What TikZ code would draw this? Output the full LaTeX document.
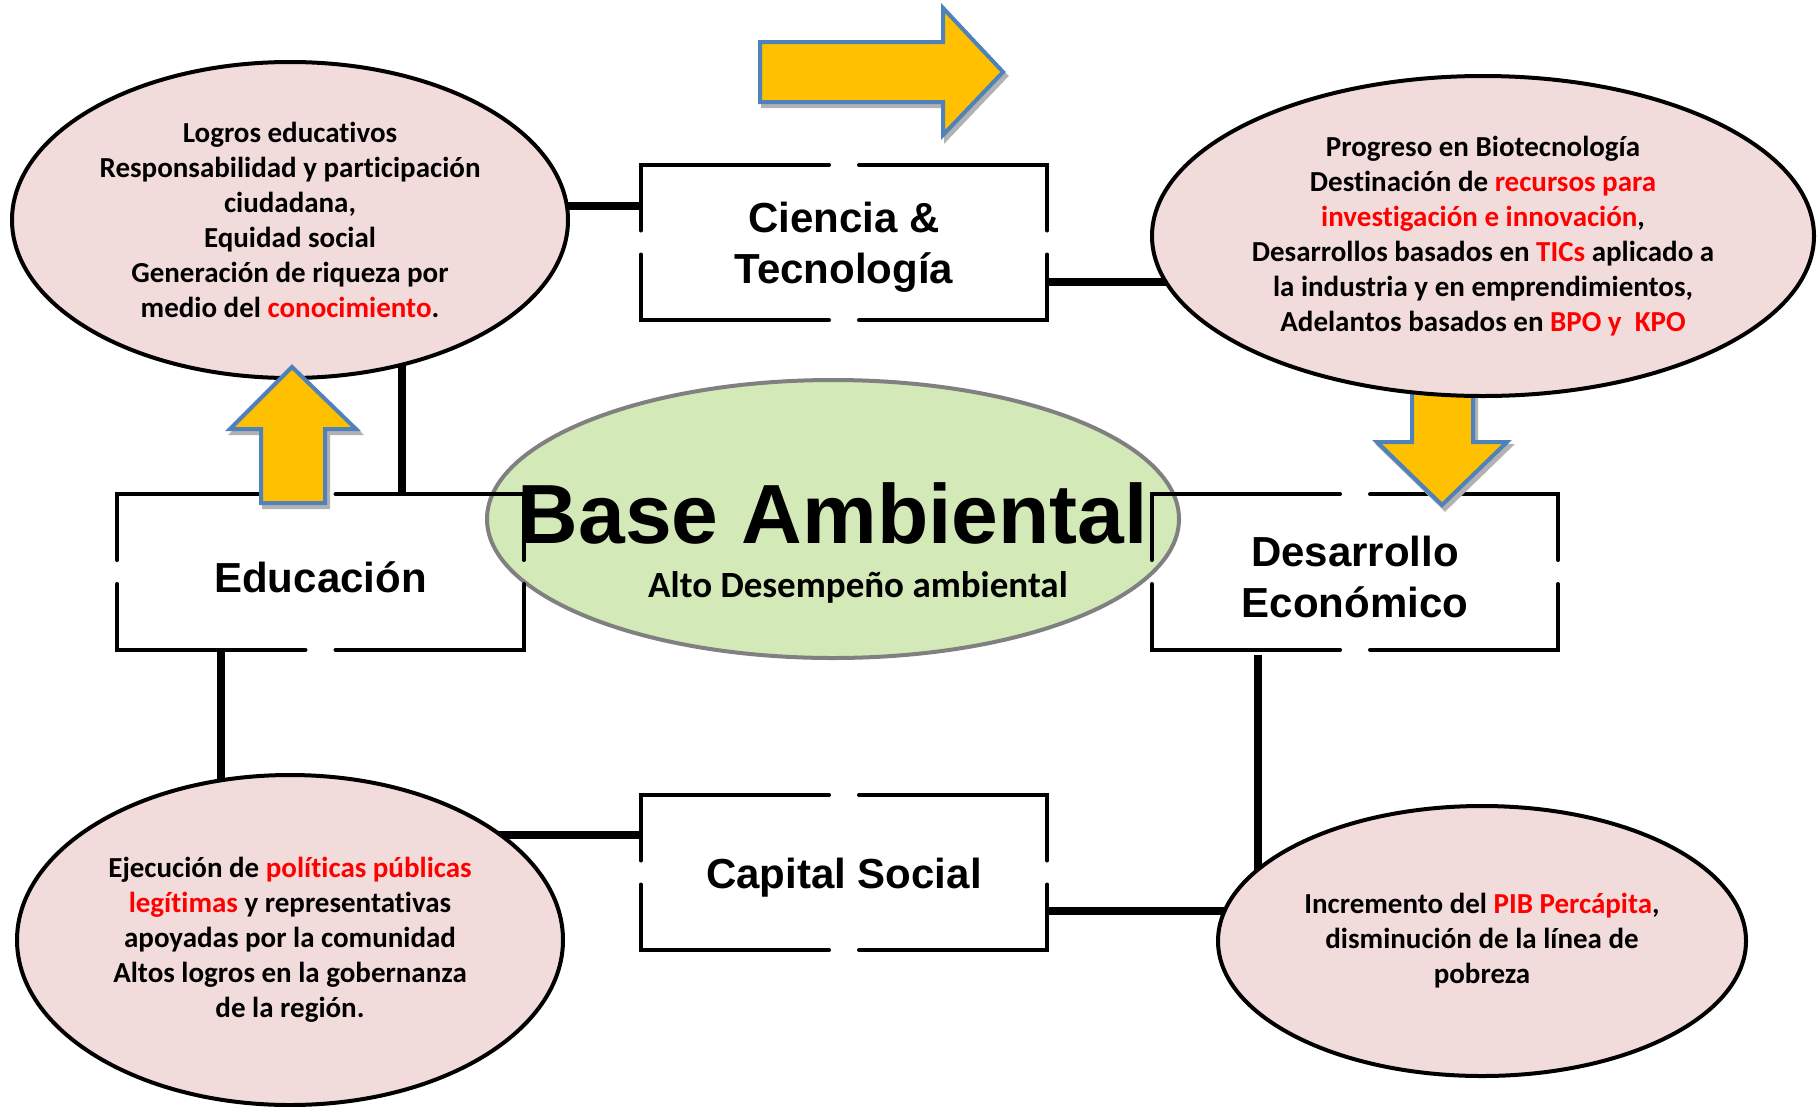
\documentclass[tikz,border=0pt]{standalone}
\usepackage{fontspec}
\setmainfont[Ligatures=NoCommon]{Carlito}
\newfontfamily\arialf{Liberation Sans}
\usetikzlibrary{shapes.geometric,calc}
\pgfdeclarelayer{bg}
\pgfsetlayers{bg,main}
\definecolor{pinkfill}{HTML}{F2DCDB}
\definecolor{greenfill}{HTML}{D4E9B8}
\definecolor{ellgray}{HTML}{808080}
\definecolor{arrfill}{HTML}{FFC000}
\definecolor{arrline}{HTML}{4F81BD}
\definecolor{redtxt}{HTML}{FF0000}
\newcommand{\rt}[1]{\textcolor{redtxt}{#1}}
\newcommand{\gapframe}[1]{%
  \draw[boxline] ($(#1.north)+(-15,0)$) -- (#1.north west) -- ($(#1.west)+(0,-12)$);
  \draw[boxline] ($(#1.west)+(0,12)$) -- (#1.south west) -- ($(#1.south)+(-15,0)$);
  \draw[boxline] ($(#1.south)+(15,0)$) -- (#1.south east) -- ($(#1.east)+(0,12)$);
  \draw[boxline] ($(#1.east)+(0,-12)$) -- (#1.north east) -- ($(#1.north)+(15,0)$);
}
\begin{document}
\begin{tikzpicture}[x=1pt,y=-1pt,
  oval/.style={ellipse, draw=black, line width=4pt, fill=pinkfill, inner sep=0pt,
    align=center, font=\bfseries\fontsize{29}{35}\selectfont},
  boxnode/.style={minimum width=406pt, minimum height=155pt, inner sep=0pt},
  boxtext/.style={inner sep=0pt, yshift=-5pt, align=center,
    font=\arialf\bfseries\fontsize{42}{51}\selectfont},
  boxline/.style={line width=4pt, line cap=round, line join=miter},
  conn/.style={line width=7.5pt},
  bigarrow/.style={fill=arrfill, draw=arrline, line width=4pt, line join=miter},
  arrshadow/.style={fill=black!30, draw=black!30, line width=4pt, line join=miter},
]
\useasboundingbox (0,0) rectangle (1819,1106);

% central ellipse
\node[ellipse, draw=ellgray, line width=4pt, fill=greenfill, minimum width=692pt,
      minimum height=278pt, inner sep=0pt] (base) at (833,519) {};

% pink ellipses
\node[oval, minimum width=556pt, minimum height=316pt] (tl) at (290,220)
  {Logros educativos\\Responsabilidad y participación\\ciudadana,\\Equidad social\\Generación de riqueza por\\medio del \rt{conocimiento}.};
\node[oval, minimum width=546pt, minimum height=330pt] (bl) at (290,940)
  {Ejecución de \rt{políticas públicas}\\\rt{legítimas} y representativas\\apoyadas por la comunidad\\Altos logros en la gobernanza\\de la región.};
\node[oval, minimum width=528pt, minimum height=270pt] (br) at (1482,941)
  {Incremento del \rt{PIB Percápita},\\disminución de la línea de\\pobreza};

% boxes
\node[boxnode, label={[boxtext]center:{Ciencia \&\\Tecnología}}] (cien) at (844,242.5) {};
\node[boxnode, label={[boxtext]center:{Educación}}] (edu) at (320.5,572) {};
\node[boxnode, label={[boxtext]center:{Desarrollo\\Económico}}] (des) at (1355,572) {};
\node[boxnode, label={[boxtext]center:{Capital Social}}] (cap) at (844,872.5) {};
\gapframe{cien}
\gapframe{edu}
\gapframe{des}
\gapframe{cap}

% down arrow (under the top-right ellipse)
\filldraw[arrshadow, shift={(3,4)}] (1412,380) -- (1412,442) -- (1377,442) -- (1442,505) -- (1507,442) -- (1473,442) -- (1473,380) -- cycle;
\filldraw[bigarrow] (1412,380) -- (1412,442) -- (1377,442) -- (1442,505) -- (1507,442) -- (1473,442) -- (1473,380) -- cycle;

\node[oval, minimum width=662pt, minimum height=320pt] (tr) at (1483,236)
  {Progreso en Biotecnología\\Destinación de \rt{recursos para}\\\rt{investigación e innovación},\\Desarrollos basados en \rt{TICs} aplicado a\\la industria y en emprendimientos,\\Adelantos basados en \rt{BPO y\ \ KPO}};

% central texts
\node[font=\arialf\bfseries\fontsize{84}{90}\selectfont, anchor=base, inner sep=0pt] (title) at (833,543) {Base Ambiental};
\node[font=\bfseries\fontsize{37}{44}\selectfont, anchor=base, inner sep=0pt] (sub) at (858,597) {Alto Desempeño ambiental};

% right arrow
\filldraw[arrshadow, shift={(3,4)}] (760,42) -- (943,42) -- (943,8) -- (1003,72) -- (943,135) -- (943,102) -- (760,102) -- cycle;
\filldraw[bigarrow] (760,42) -- (943,42) -- (943,8) -- (1003,72) -- (943,135) -- (943,102) -- (760,102) -- cycle;

% up arrow
\filldraw[arrshadow, shift={(3,4)}] (261,503) -- (261,429) -- (230,429) -- (292,367) -- (356,429) -- (325,429) -- (325,503) -- cycle;
\filldraw[bigarrow] (261,503) -- (261,429) -- (230,429) -- (292,367) -- (356,429) -- (325,429) -- (325,503) -- cycle;

% connectors
\begin{pgfonlayer}{bg}
  \coordinate (ya) at (0,206);
  \coordinate (yb) at (0,282);
  \coordinate (yc) at (0,835);
  \coordinate (yd) at (0,911);
  \coordinate (xa) at (402,0);
  \coordinate (xb) at (221,0);
  \coordinate (xc) at (1258,0);
  \draw[conn] (tl.center |- ya) -- (cien.west |- ya);
  \draw[conn] (cien.east |- yb) -- (tr.center |- yb);
  \draw[conn] (edu.north -| xa) -- (tl.center -| xa);
  \draw[conn] (edu.south -| xb) -- (bl.center -| xb);
  \draw[conn] (bl.center |- yc) -- (cap.west |- yc);
  \draw[conn] (cap.east |- yd) -- (br.center |- yd);
  \draw[conn] ($(des.south -| xc)+(0,5)$) -- (br.center -| xc);
\end{pgfonlayer}
\end{tikzpicture}
\end{document}
